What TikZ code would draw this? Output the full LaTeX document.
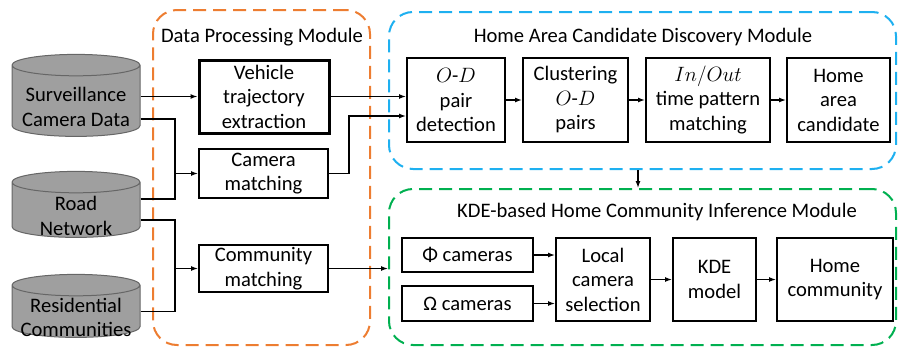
\documentclass[tikz,border=0pt]{standalone}
\usepackage{fontspec}
\setmainfont{Carlito}
\usetikzlibrary{shapes.geometric,arrows.meta}
\begin{document}
\begin{tikzpicture}[x=1pt,y=-1pt,
  font=\fontsize{20.6}{24.5}\selectfont, line width=1.3pt,
  >={Latex[length=7pt,width=5pt]},
  box/.style={draw, line width=2pt, align=center, inner sep=0pt},
  db/.style={cylinder, shape border rotate=90, aspect=0.17, draw=gray!80!black, fill=gray!75,
    line width=1pt, text width=126pt, minimum width=128pt, inner sep=0pt},
  dbtext/.style={align=center, inner sep=0pt, yshift=-6pt},
  module/.style={draw, line width=2pt, rounded corners=24pt, dash pattern=on 13pt off 7pt, inner sep=0pt}]
\useasboundingbox (0,0) rectangle (898,348);
\node[module, draw={rgb,255:red,237;green,125;blue,49}, minimum width=217pt, minimum height=335pt] (dpm) at (261.5,177.5) {};
\node[module, draw={rgb,255:red,30;green,176;blue,240}, minimum width=507pt, minimum height=157pt] (hacd) at (642.5,90.5) {};
\node[module, draw={rgb,255:red,0;green,176;blue,80}, minimum width=507pt, minimum height=156pt] (khci) at (642.5,267) {};
\node (t1) at (262,37) {Data Processing Module};
\node (t2) at (643,37) {Home Area Candidate Discovery Module};
\node (t3) at (657,212) {KDE-based Home Community Inference Module};
\node[db, minimum height=82pt, label={[dbtext]center:Surveillance\\Camera Data}] (scd) at (76,101) {};
\node[db, minimum height=66pt, label={[dbtext]center:Road\\Network}] (rn) at (76,210) {};
\node[db, minimum height=63pt, label={[dbtext]center:Residential\\Communities}] (rc) at (76,311.5) {};
\node[box, line width=3pt, minimum width=130pt, minimum height=73pt] (vte) at (264,96.5) {Vehicle\\trajectory\\extraction};
\node[box, minimum width=129pt, minimum height=49pt] (cam) at (263.5,173.5) {Camera\\matching};
\node[box, minimum width=129pt, minimum height=47pt] (com) at (263.5,268.5) {Community\\matching};
\node[box, minimum width=98pt, minimum height=84pt] (od) at (456,100) {$O$-$D$\\pair\\detection};
\node[box, minimum width=105pt, minimum height=84pt] (clu) at (575.5,100) {Clustering\\$O$-$D$\\pairs};
\node[box, minimum width=124pt, minimum height=84pt] (tpm) at (708,100) {$In/Out$\\time pattern\\matching};
\node[box, minimum width=103pt, minimum height=84pt] (hac) at (838.5,100) {Home\\area\\candidate};
\node[box, minimum width=131pt, minimum height=34pt] (phi) at (467.5,255) {Φ cameras};
\node[box, minimum width=131pt, minimum height=35pt] (omg) at (467.5,303.5) {Ω cameras};
\node[box, minimum width=94pt, minimum height=83pt] (lcs) at (603,279.5) {Local\\camera\\selection};
\node[box, minimum width=83pt, minimum height=83pt] (kde) at (714.5,279.5) {KDE\\model};
\node[box, minimum width=116pt, minimum height=83pt] (hc) at (835,279.5) {Home\\community};
\coordinate (jc) at (175,173.5);
\coordinate (jm) at (175,268.5);
\coordinate (jo) at (349,116);
\draw[->] (scd.east |- vte) -- (vte);
\draw ([yshift=-18pt]scd.east) -| (jc);
\draw ([yshift=11pt]rn.east) -| (jc);
\draw[->] (jc) -- (cam);
\draw ([yshift=-10pt]rn.east) -| (jm);
\draw (rc.east) -| (jm);
\draw[->] (jm) -- (com);
\draw[->] (vte) -- (od.west |- vte);
\draw[->] (cam) -| (jo) -- (od.west |- jo);
\draw[->] (com) -- (khci.west |- com);
\draw[->] (od) -- (clu);
\draw[->] (clu) -- (tpm);
\draw[->] (tpm) -- (hac);
\draw[->] (hacd.south -| 638,0) -- (khci.north -| 638,0);
\draw[->] (phi) -- (lcs.west |- phi);
\draw[->] (omg) -- (lcs.west |- omg);
\draw[->] (lcs) -- (kde);
\draw[->] (kde) -- (hc);
\end{tikzpicture}
\end{document}
